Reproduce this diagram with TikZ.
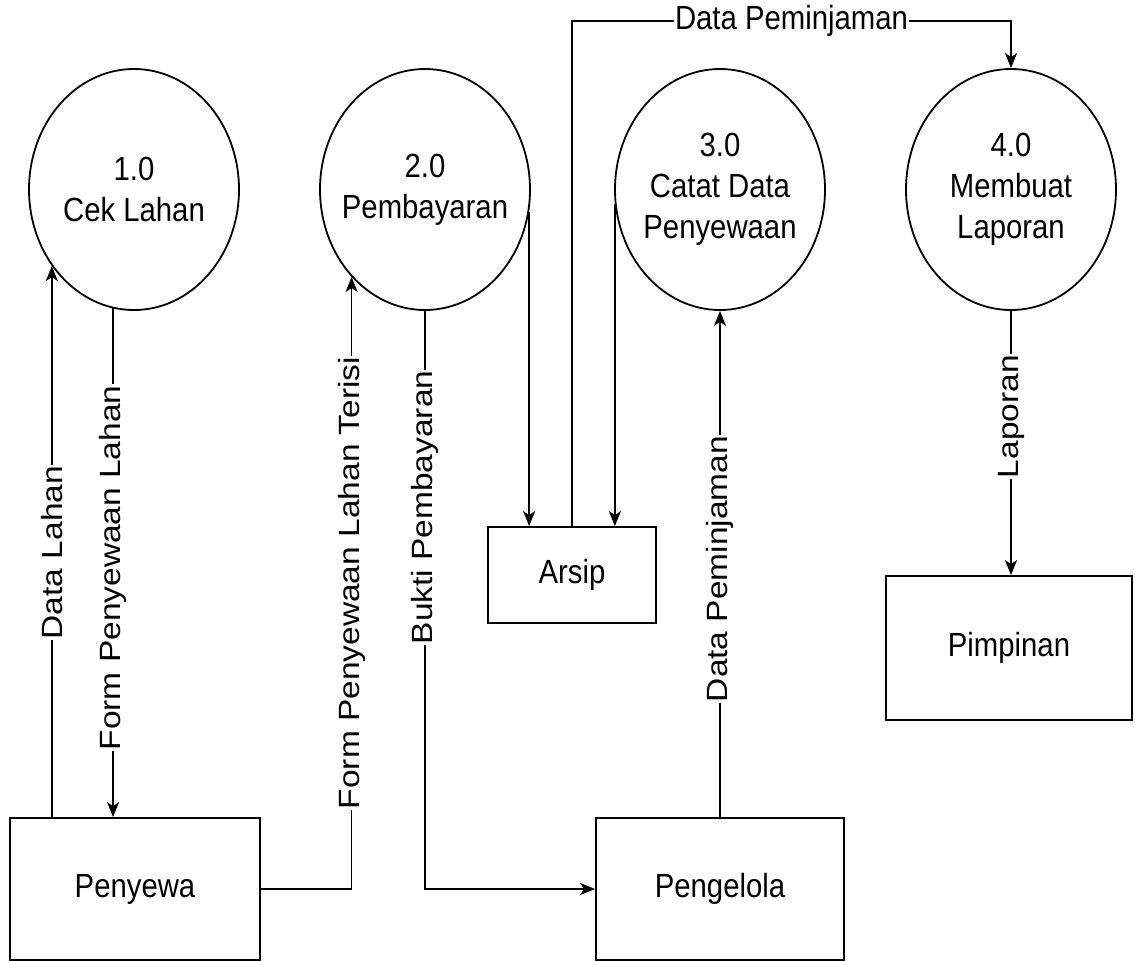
\documentclass[tikz,border=0pt]{standalone}
\usepackage{fontspec}
\setmainfont[FakeStretch=0.875]{Liberation Sans}
\newfontfamily\rotfont[FakeStretch=1.143]{Liberation Sans}
\usetikzlibrary{shapes.geometric,arrows.meta}

\begin{document}
\begin{tikzpicture}[x=1pt, y=-1pt, line width=1.8pt,
    proc/.style={draw, ellipse, minimum width=210pt, minimum height=241pt, inner sep=-15pt, align=center, font=\fontsize{33.5pt}{41pt}\selectfont},
    ent/.style={draw, rectangle, font=\fontsize{33.5pt}{41pt}\selectfont},
    flow/.style={-{Stealth[length=15pt, width=12pt, inset=4pt]}},
    lbl/.style={fill=white, inner sep=1pt, rotate=90, font=\rotfont\fontsize{29.3pt}{35pt}\selectfont},
    hlbl/.style={fill=white, inner sep=1pt, font=\fontsize{33.5pt}{41pt}\selectfont}]
  \useasboundingbox (0,0) rectangle (1135,961);
  % proses
  \node[proc] (p1) at (134,189.5)  {1.0\\Cek Lahan};
  \node[proc] (p2) at (425,189.5)  {2.0\\Pembayaran};
  \node[proc] (p3) at (720,189.5)  {3.0\\Catat Data\\Penyewaan};
  \node[proc] (p4) at (1011,189.5) {4.0\\Membuat\\Laporan};
  % entitas dan arsip
  \node[ent, minimum width=250pt, minimum height=142pt] (penyewa)   at (135,889)  {Penyewa};
  \node[ent, minimum width=248pt, minimum height=142pt] (pengelola) at (720,889)  {Pengelola};
  \node[ent, minimum width=168pt, minimum height=96pt]  (arsip)     at (572,575)  {Arsip};
  \node[ent, minimum width=246pt, minimum height=144pt] (pimpinan)  at (1009,648) {Pimpinan};
  \coordinate (dptop) at ([yshift=47pt]p4.north);
  % aliran data
  \draw[flow] (penyewa.north -| p1.223) -- node[lbl, pos=0.48] {Data Lahan} (p1.223);
  \draw[flow] (p1.260) -- node[lbl, pos=0.51] {Form Penyewaan Lahan} (p1.260 |- penyewa.north);
  \draw[flow] (penyewa.east) -| node[lbl, pos=0.75] {Form Penyewaan Lahan Terisi} (p2.230);
  \draw[flow] (p2.south) |- node[lbl, pos=0.17] {Bukti Pembayaran} (pengelola.west);
  \draw[flow] (p2.-12) -- (p2.-12 |- arsip.north);
  \draw[flow] (p3.188) -- (p3.188 |- arsip.north);
  \draw[flow] (arsip.north) |- node[hlbl, pos=0.75] {Data Peminjaman} (dptop) -- (p4.north);
  \draw[flow] (pengelola.north) -- node[lbl, pos=0.49] {Data Peminjaman} (p3.south);
  \draw[flow] (p4.south) -- node[lbl, pos=0.4] {Laporan} (p4.south |- pimpinan.north);
\end{tikzpicture}
\end{document}
